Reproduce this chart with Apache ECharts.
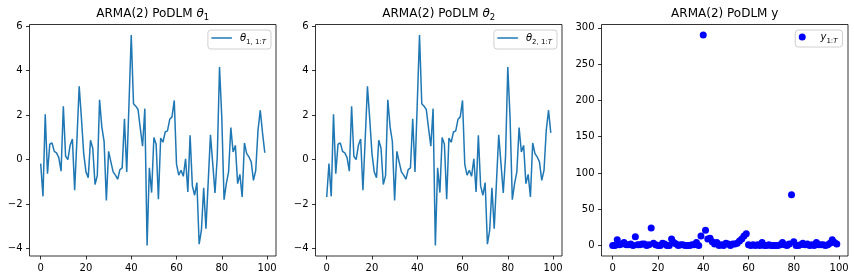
<!DOCTYPE html>
<html>
<head>
<meta charset="utf-8">
<script src="https://cdn.jsdelivr.net/npm/echarts@6/dist/echarts.min.js"></script>
<style>
html,body{margin:0;padding:0;background:#fff;}
#chart{width:854px;height:280px;}
</style>
</head>
<body>
<div id="chart"></div>
<script>
// ---- data ----
const theta1 = [
 -0.18,-1.65,2.04,-0.63,0.69,0.75,0.37,0.30,0.09,-0.52,
 2.40,0.15,0.00,0.64,0.93,-1.38,0.90,3.29,1.84,0.27,
 -0.55,-0.81,0.87,0.51,-1.12,-0.72,2.69,1.47,0.82,-1.83,
 0.37,-0.10,-0.55,-0.70,-0.88,-0.45,-0.37,1.83,-0.55,2.50,
 5.60,2.51,2.40,2.25,1.40,0.60,2.29,-3.86,-0.37,-1.48,
 0.99,0.69,-1.78,0.97,0.78,1.24,1.29,1.81,1.92,2.66,
 -0.21,-0.70,-0.48,-0.75,0.04,-1.45,1.09,-1.18,-1.60,-1.03,
 -3.80,-3.17,-1.27,-3.10,-1.00,1.11,-0.18,-1.50,0.12,4.16,
 1.90,-1.80,-1.08,-0.55,1.44,0.34,0.64,-1.08,-0.66,-1.68,
 0.75,0.27,0.12,-0.10,-0.93,-0.48,1.32,2.22,1.20,0.31
];
const theta2 = [
 -1.68,-0.18,-1.65,2.04,-0.63,0.69,0.75,0.37,0.30,0.09,
 -0.52,2.40,0.15,0.00,0.64,0.93,-1.38,0.90,3.29,1.84,
 0.27,-0.55,-0.81,0.87,0.51,-1.12,-0.72,2.69,1.47,0.82,
 -1.83,0.37,-0.10,-0.55,-0.70,-0.88,-0.45,-0.37,1.83,-0.55,
 2.50,5.60,2.51,2.40,2.25,1.40,0.60,2.29,-3.86,-0.37,
 -1.48,0.99,0.69,-1.78,0.97,0.78,1.24,1.29,1.81,1.92,
 2.66,-0.21,-0.70,-0.48,-0.75,0.04,-1.45,1.09,-1.18,-1.60,
 -1.03,-3.80,-3.17,-1.27,-3.10,-1.00,1.11,-0.18,-1.50,0.12,
 4.16,1.90,-1.80,-1.08,-0.55,1.44,0.34,0.64,-1.08,-0.66,
 -1.68,0.75,0.27,0.12,-0.10,-0.93,-0.48,1.32,2.22,1.20
];
const yObs = [
 0,0,8,1,2,4,1,1,2,0,
 12,1,1,2,2,0,1,24,3,1,
 0,0,3,2,0,0,9,4,2,0,
 1,1,0,0,0,1,1,4,0,13,
 290,21,9,10,5,2,4,0,1,0,
 3,2,0,2,2,3,6,9,13,16,
 1,0,1,0,1,0,4,0,0,1,
 0,0,0,0,1,4,1,0,2,70,
 5,0,0,1,3,1,2,0,1,0,
 4,1,1,1,0,1,3,8,4,2
];
const xTicks = [0, 20, 40, 60, 80, 100];
const thetaTicks = [-4, -2, 0, 2, 4, 6];
const yTicks = [0, 50, 100, 150, 200, 250, 300];
const titles = ['ARMA(2) PoDLM ', 'ARMA(2) PoDLM ', 'ARMA(2) PoDLM y'];

// ---- chart ----
const FONT = 'DejaVu Sans';
const toPairs = arr => arr.map((v, i) => [i, v]);
const minusFmt = v => String(v).replace('-', '\u2212');

const gridLefts = [29.5, 315.5, 601.5];
const grids = gridLefts.map(l => ({
  left: l, top: 24.5, width: 246.5, height: 231.5,
  show: true, borderColor: '#000', borderWidth: 0.8, backgroundColor: '#fff'
}));

function xAxis(i) {
  return {
    type: 'value', gridIndex: i, min: -4.95, max: 103.95, position: 'bottom',
    splitLine: {show: false}, axisLine: {show: false, onZero: false},
    axisTick: {show: true, inside: false, length: 3.5, customValues: xTicks, lineStyle: {color: '#000', width: 0.8}},
    axisLabel: {customValues: xTicks, margin: 7.5, color: '#000', fontSize: 10, fontFamily: FONT, formatter: minusFmt}
  };
}
function yAxis(i, mn, mx, ticks) {
  return {
    type: 'value', gridIndex: i, min: mn, max: mx, position: 'left',
    splitLine: {show: false}, axisLine: {show: false, onZero: false},
    axisTick: {show: true, inside: false, length: 3.5, customValues: ticks, lineStyle: {color: '#000', width: 0.8}},
    axisLabel: {customValues: ticks, margin: 7, color: '#000', fontSize: 10, fontFamily: FONT, formatter: minusFmt}
  };
}

const titleRich = {
  n: {fontSize: 12, fontFamily: FONT, fontWeight: 'normal', color: '#000', lineHeight: 16},
  t: {fontSize: 12, fontFamily: FONT, fontWeight: 'normal', fontStyle: 'italic', color: '#000', lineHeight: 16},
  s: {fontSize: 8.5, fontFamily: FONT, fontWeight: 'normal', color: '#000', lineHeight: 8, verticalAlign: 'bottom'}
};
const centers = gridLefts.map(l => l + 246.5 / 2);
const titleTexts = [
  '{n|' + titles[0] + '}{t|θ}{s|1}',
  '{n|' + titles[1] + '}{t|θ}{s|2}',
  '{n|' + titles[2] + '}'
];
const title = titleTexts.map((t, i) => ({
  text: t, left: centers[i], top: 6, textAlign: 'center', padding: 0,
  textStyle: {rich: titleRich, fontSize: 12, fontWeight: 'normal', fontFamily: FONT}
}));

const legRich = {
  t: {fontSize: 10, fontFamily: FONT, fontStyle: 'italic', color: '#000', lineHeight: 16, padding: [0, 0, 0, 3]},
  s: {fontSize: 7, fontFamily: FONT, color: '#000', lineHeight: 7, verticalAlign: 'bottom'},
  si: {fontSize: 7, fontFamily: FONT, fontStyle: 'italic', color: '#000', lineHeight: 7, verticalAlign: 'bottom'}
};
const legBase = {
  orient: 'vertical', top: 30, itemWidth: 20.5,
  borderColor: '#d0d0d0', borderWidth: 1, borderRadius: 3, backgroundColor: '#fff',
  selectedMode: false, textStyle: {rich: legRich, fontFamily: FONT, fontSize: 10}
};
const legend = [
  Object.assign({}, legBase, {data: [{name: 'theta1', icon: 'rect'}], itemHeight: 1.5, right: 583, padding: [3, 5, 3, 3.5],
    formatter: () => '{t|θ}{s|1, 1:}{si|T}'}),
  Object.assign({}, legBase, {data: [{name: 'theta2', icon: 'rect'}], itemHeight: 1.5, right: 297, padding: [3, 5, 3, 3.5],
    formatter: () => '{t|θ}{s|2, 1:}{si|T}'}),
  Object.assign({}, legBase, {data: [{name: 'y', icon: 'circle'}], itemHeight: 7, right: 11.5, padding: [2, 5, 2, 3.5],
    formatter: () => '{t|y}{s|1:}{si|T}'})
];

const chart = echarts.init(document.getElementById('chart'), null, {renderer: 'canvas'});
chart.setOption({
  animation: false,
  backgroundColor: '#fff',
  title: title,
  legend: legend,
  grid: grids,
  xAxis: [xAxis(0), xAxis(1), xAxis(2)],
  yAxis: [yAxis(0, -4.33, 6.07, thetaTicks), yAxis(1, -4.33, 6.07, thetaTicks), yAxis(2, -14.5, 304.5, yTicks)],
  series: [
    {name: 'theta1', type: 'line', xAxisIndex: 0, yAxisIndex: 0, data: toPairs(theta1),
     symbol: 'none', lineStyle: {color: '#1f77b4', width: 1.5}, itemStyle: {color: '#1f77b4'}},
    {name: 'theta2', type: 'line', xAxisIndex: 1, yAxisIndex: 1, data: toPairs(theta2),
     symbol: 'none', lineStyle: {color: '#1f77b4', width: 1.5}, itemStyle: {color: '#1f77b4'}},
    {name: 'y', type: 'scatter', xAxisIndex: 2, yAxisIndex: 2, data: toPairs(yObs),
     symbol: 'circle', symbolSize: 7, itemStyle: {color: '#0000ff', opacity: 1}}
  ]
});
</script>
</body>
</html>
